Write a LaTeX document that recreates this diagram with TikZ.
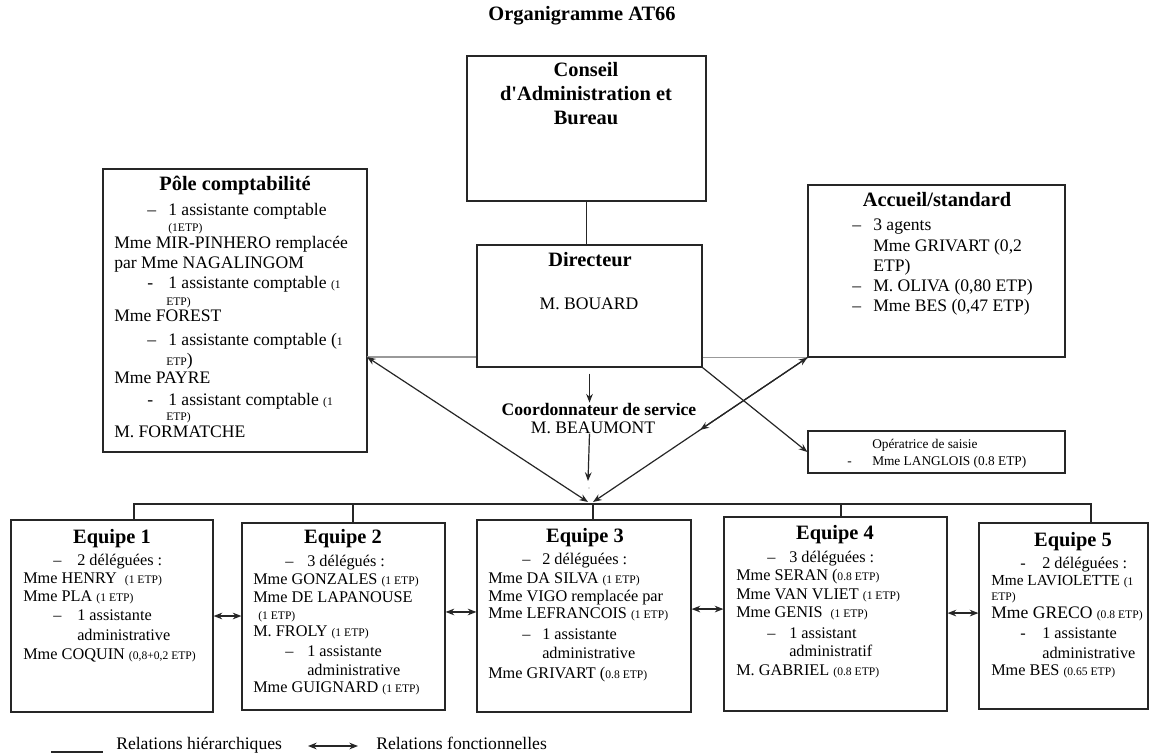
\documentclass[tikz,border=0pt]{standalone}
\usepackage{fontspec}
\setmainfont{Liberation Serif}[Ligatures=TeXOff]
\usetikzlibrary{arrows.meta,calc}
\newcommand\etp[1]{{\fontsize{8.7}{10}\selectfont #1}}
\newcommand\dsh[2]{\makebox[\dimexpr #1pt*3/4\relax][l]{#2}}
\newcommand\mkbox[5]{\node[box, minimum width={(#4-#2)*0.75pt}, minimum height={(#5-#3)*0.75pt}] (#1) at ({(#2+#4)/2},{(#3+#5)/2}) {};}
\tikzset{
  box/.style={draw=black!85, line width=0.9pt, rectangle, inner sep=0pt},
  ln/.style={anchor=mid west, inner sep=0pt, text=black},
  ctr/.style={anchor=mid, inner sep=0pt, text=black},
  hd/.style={font=\fontsize{15.3}{18}\selectfont\bfseries},
  bodyP/.style={font=\fontsize{13.2}{15}\selectfont},
  bodyE/.style={font=\fontsize{12.2}{14}\selectfont},
  bodyF/.style={font=\fontsize{11.5}{13}\selectfont},
  bodyO/.style={font=\fontsize{10}{12}\selectfont},
  con/.style={draw=black!85, line width=0.9pt},
  gcon/.style={draw=black!40, line width=1pt},
  >={Stealth[length=6.5pt,width=5pt]}
}
\begin{document}
\begin{tikzpicture}[x=0.75pt,y=-0.75pt]
\fill[white] (0,0) rectangle (1157,754);
\useasboundingbox (0,0) rectangle (1157,754);

% title
\node[ctr,hd] (title) at (582,17) {Organigramme AT66};

% boxes
\mkbox{conseil}{467}{56}{706}{201}
\mkbox{dir}{477}{245}{702}{367}
\mkbox{pole}{103}{169}{367}{452}
\mkbox{acc}{808}{185}{1065}{357}
\mkbox{oper}{808}{431}{1065}{473}
\mkbox{eq1}{11}{520}{213}{712}
\mkbox{eq2}{242}{523}{445}{710}
\mkbox{eq3}{477}{520}{691}{712}
\mkbox{eq4}{724}{517}{947}{711}
\mkbox{eq5}{979}{523}{1148}{709}

% Conseil
\node[ctr,hd] (c1) at (586,73) {Conseil};
\node[ctr,hd] (c2) at (586,97) {d'Administration et};
\node[ctr,hd] (c3) at (586,121) {Bureau};

% Directeur
\node[ctr,hd] (d1) at (590,263) {Directeur};
\node[ctr,bodyP] (d2) at (589,306) {M. BOUARD};

% Coordonnateur
\node[ctr,bodyP] (k1) at (599,412) {\bfseries Coordonnateur de service};
\node[ctr,bodyP] (k2) at (593,430) {M. BEAUMONT};

% Pole comptabilite
\node[ctr,hd] (pt) at (235,187) {Pôle comptabilité};
\node[ln,bodyP] (p1) at (147,212) {\dsh{21}{–}1 assistante comptable};
\node[ln,bodyP] (p2) at (168,228) {\etp{(1ETP)}};
\node[ln,bodyP] (p3) at (114,245) {Mme MIR-PINHERO remplacée};
\node[ln,bodyP] (p4) at (114,265) {par Mme NAGALINGOM};
\node[ln,bodyP] (p5) at (147,285) {\dsh{21}{-}1 assistante comptable \etp{(1}};
\node[ln,bodyP] (p6) at (166,302) {\etp{ETP)}};
\node[ln,bodyP] (p7) at (114,318) {Mme FOREST};
\node[ln,bodyP] (p8) at (147,342) {\dsh{21}{–}1 assistante comptable (\etp{1}};
\node[ln,bodyP] (p9) at (166,362) {\etp{ETP})};
\node[ln,bodyP] (p10) at (114,380) {Mme PAYRE};
\node[ln,bodyP] (p11) at (147,402) {\dsh{21}{-}1 assistant comptable \etp{(1}};
\node[ln,bodyP] (p12) at (166,417) {\etp{ETP)}};
\node[ln,bodyP] (p13) at (114,434) {M. FORMATCHE};

% Accueil
\node[ctr,hd] (at) at (937,203) {Accueil/standard};
\node[ln,bodyP] (a1) at (852,227) {\dsh{21}{–}3 agents};
\node[ln,bodyP] (a2) at (873,248) {Mme GRIVART (0,2};
\node[ln,bodyP] (a3) at (873,268) {ETP)};
\node[ln,bodyP] (a4) at (852,288) {\dsh{21}{–}M. OLIVA (0,80 ETP)};
\node[ln,bodyP] (a5) at (852,308) {\dsh{21}{–}Mme BES (0,47 ETP)};

% Operatrice
\node[ln,bodyO] (o1) at (872,445) {Opératrice de saisie};
\node[ln,bodyO] (o2) at (847,462) {\dsh{25}{-}Mme LANGLOIS (0.8 ETP)};

% Equipe 1
\node[ctr,hd] (e1t) at (112,540) {Equipe 1};
\node[ln,bodyE] (e11) at (53,562) {\dsh{24}{–}2 déléguées :};
\node[ln,bodyE] (e12) at (23,580) {Mme HENRY~ \etp{(1 ETP)}};
\node[ln,bodyE] (e13) at (23,598) {Mme PLA \etp{(1 ETP)}};
\node[ln,bodyE] (e14) at (53,617) {\dsh{24}{–}1 assistante};
\node[ln,bodyE] (e15) at (77,637) {administrative};
\node[ln,bodyE] (e16) at (23,656) {Mme COQUIN \etp{(0,8+0,2 ETP)}};

% Equipe 2
\node[ctr,hd] (e2t) at (343,540) {Equipe 2};
\node[ln,bodyE] (e21) at (285,563) {\dsh{22}{–}3 délégués :};
\node[ln,bodyE] (e22) at (253,581) {Mme GONZALES \etp{(1 ETP)}};
\node[ln,bodyE] (e23) at (253,599) {Mme DE LAPANOUSE};
\node[ln,bodyE] (e24) at (258,616) {\etp{(1 ETP)}};
\node[ln,bodyE] (e25) at (253,633) {M. FROLY \etp{(1 ETP)}};
\node[ln,bodyE] (e26) at (285,653) {\dsh{22}{–}1 assistante};
\node[ln,bodyE] (e27) at (307,672) {administrative};
\node[ln,bodyE] (e28) at (253,689) {Mme GUIGNARD \etp{(1 ETP)}};

% Equipe 3
\node[ctr,hd] (e3t) at (585,539) {Equipe 3};
\node[ln,bodyE] (e31) at (522,561) {\dsh{20}{–}2 déléguées :};
\node[ln,bodyE] (e32) at (488,580) {Mme DA SILVA \etp{(1 ETP)}};
\node[ln,bodyE] (e33) at (488,598) {Mme VIGO remplacée par};
\node[ln,bodyE] (e34) at (488,615) {Mme LEFRANCOIS \etp{(1 ETP)}};
\node[ln,bodyE] (e35) at (522,636) {\dsh{20}{–}1 assistante};
\node[ln,bodyE] (e36) at (542,655) {administrative};
\node[ln,bodyE] (e37) at (488,675) {Mme GRIVART (\etp{0.8 ETP)}};

% Equipe 4
\node[ctr,hd] (e4t) at (835,536) {Equipe 4};
\node[ln,bodyE] (e41) at (767,559) {\dsh{22}{–}3 déléguées :};
\node[ln,bodyE] (e42) at (736,577) {Mme SERAN (\etp{0.8 ETP)}};
\node[ln,bodyE] (e43) at (736,596) {Mme VAN VLIET \etp{(1 ETP)}};
\node[ln,bodyE] (e44) at (736,614) {Mme GENIS~ \etp{(1 ETP)}};
\node[ln,bodyE] (e45) at (767,635) {\dsh{22}{–}1 assistant};
\node[ln,bodyE] (e46) at (789,653) {administratif};
\node[ln,bodyE] (e47) at (736,672) {M. GABRIEL \etp{(0.8 ETP)}};

% Equipe 5
\node[ctr,hd] (e5t) at (1073,543) {Equipe 5};
\node[ln,bodyE] (e51) at (1020,565) {\dsh{22}{-}2 déléguées :};
\node[ln,bodyF] (e52) at (991,582) {Mme LAVIOLETTE \etp{(1}};
\node[ln,bodyF] (e53) at (991,597) {\etp{ETP)}};
\node[ln,bodyP] (e54) at (991,615) {Mme GRECO \etp{(0.8 ETP)}};
\node[ln,bodyE] (e55) at (1020,635) {\dsh{22}{-}1 assistante};
\node[ln,bodyE] (e56) at (1042,655) {administrative};
\node[ln,bodyE] (e57) at (991,672) {Mme BES \etp{(0.65 ETP)}};

% connectors
\draw[con] (conseil.south) -- (conseil.south |- dir.north);
\coordinate (pc) at (367,357);
\draw[gcon] (pc) -- (pc -| dir.west);
\draw[gcon] (acc.south west) -- (acc.south west -| dir.east);
\draw[con,->] ([yshift=-4.5pt]dir.south) -- (dir.south |- k1.north);
\coordinate (c2a) at (588,481);
\draw[con,->] (k2.south -| dir.south) -- (c2a);
\coordinate (dot) at (589,488);
\fill[black!50] (dot) circle (0.5pt);
\coordinate (hubL) at (588,502);
\coordinate (hubR) at (593,502);
\draw[con,<->] (pc) -- (hubL);
\draw[con,<->] (acc.south west) -- (hubR);
\draw[con,->] (acc.south west) -- ($(acc.south west)!0.5!(hubR)$);
\draw[con,->] (dir.south east) -- (oper.west);

% bus
\coordinate (b1) at (134,504);
\coordinate (b2) at (353,504);
\coordinate (b3) at (593,504);
\coordinate (b4) at (841,504);
\coordinate (b5) at (1091,504);
\draw[con] (b1 |- eq1.north) -- (b1) -- (b5) -- (b5 |- eq5.north);
\draw[con] (b2) -- (b2 |- eq2.north);
\draw[con] (b3) -- (b3 |- eq3.north);
\draw[con] (b4) -- (b4 |- eq4.north);

% functional links between teams
\draw[con,<->] (eq1.east) -- (eq1.east -| eq2.west);
\draw[con,<->] ([yshift=3.4pt]eq2.east) -- ([yshift=3.4pt]eq2.east -| eq3.west);
\draw[con,<->] ([yshift=5.2pt]eq3.east) -- ([yshift=5.2pt]eq3.east -| eq4.west);
\draw[con,<->] ([yshift=0.7pt]eq4.east) -- ([yshift=0.7pt]eq4.east -| eq5.west);

% legend
\coordinate (lg1) at (51,752);
\coordinate (lg2) at (103,752);
\draw[con] (lg1) -- (lg2);
\node[ln,bodyP] (lt1) at (116,746) {Relations hiérarchiques};
\coordinate (la1) at (308,746);
\coordinate (la2) at (358,746);
\draw[con,<->] (la1) -- (la2);
\node[ln,bodyP] (lt2) at (376,746) {Relations fonctionnelles};
\end{tikzpicture}
\end{document}
